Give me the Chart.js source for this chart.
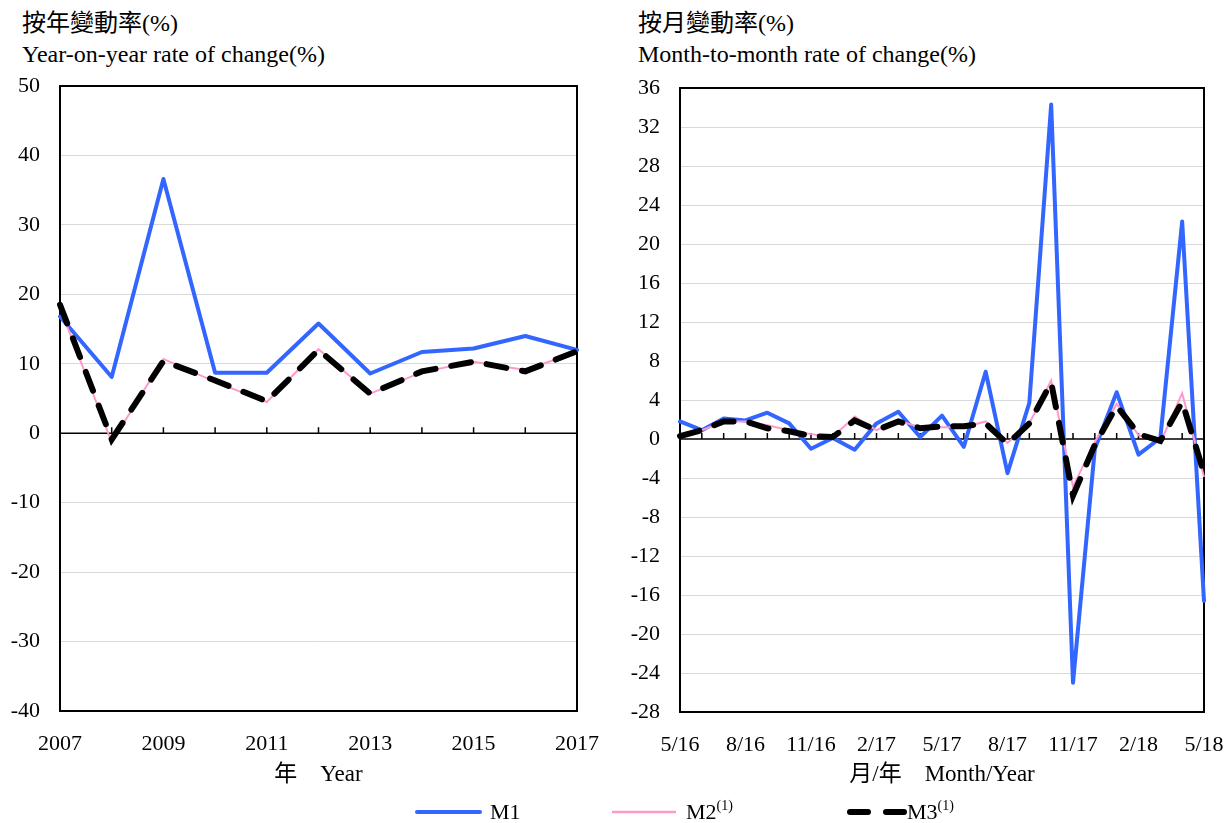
<!DOCTYPE html>
<html>
<head>
<meta charset="utf-8">
<script src="https://cdn.jsdelivr.net/npm/chart.js@4.4.1/dist/chart.umd.min.js"></script>
<style>
  body { margin: 0; background: #fff; width: 1227px; height: 823px; position: relative; overflow: hidden;
         font-family: "Liberation Serif", "Noto Sans CJK TC", serif; color: #000; }
  .t { position: absolute; font-size: 24px; line-height: 30px; white-space: nowrap; }
  #left { position: absolute; left: 0; top: 0; }
  #right { position: absolute; left: 610px; top: 0; }
  #legend { position: absolute; top: 800px; left: 0; width: 1227px; height: 24px; font-size: 22px; }
  #legend .item { position: absolute; top: 0; height: 24px; line-height: 24px; }
  #legend svg { position: absolute; top: 0; }
  sup { font-size: 14px; vertical-align: 9px; line-height: 0; }
</style>
</head>
<body>
<div class="t" style="left:22px;top:8px;">按年變動率(%)</div>
<div class="t" style="left:22px;top:39px;">Year-on-year rate of change(%)</div>
<div class="t" style="left:638px;top:8px;">按月變動率(%)</div>
<div class="t" style="left:638px;top:39px;">Month-to-month rate of change(%)</div>

<canvas id="left" width="610" height="800"></canvas>
<canvas id="right" width="617" height="800"></canvas>

<div id="legend">
  <svg style="left:410px" width="80" height="24"><line x1="7" y1="12" x2="70" y2="12" stroke="#3366ff" stroke-width="4" stroke-linecap="round"/></svg>
  <div class="item" style="left:490px">M1</div>
  <svg style="left:604px" width="80" height="24"><line x1="8" y1="12" x2="72" y2="12" stroke="#ff99cc" stroke-width="2.5"/></svg>
  <div class="item" style="left:686px">M2<sup>(1)</sup></div>
  <svg style="left:840px" width="70" height="24"><line x1="10" y1="12" x2="64" y2="12" stroke="#000" stroke-width="6" stroke-linecap="round" stroke-dasharray="18 18"/></svg>
  <div class="item" style="left:907px">M3<sup>(1)</sup></div>
</div>

<script>
// yearly rate of change (%)
const years = ['2007', '2008', '2009', '2010', '2011', '2012', '2013', '2014', '2015', '2016', '2017'];
const m1Yoy = [16.8, 8.1, 36.6, 8.7, 8.7, 15.8, 8.6, 11.7, 12.2, 14.0, 12.0];
const m2Yoy = [18.1, -1.3, 10.7, 7.4, 4.5, 12.1, 5.7, 8.8, 10.3, 9.1, 11.7];
const m3Yoy = [18.5, -0.9, 10.4, 7.6, 4.6, 12.0, 5.7, 8.9, 10.3, 8.9, 11.8];

// monthly rate of change (%)
const months = ['5/16', '6/16', '7/16', '8/16', '9/16', '10/16', '11/16', '12/16', '1/17', '2/17', '3/17', '4/17',
  '5/17', '6/17', '7/17', '8/17', '9/17', '10/17', '11/17', '12/17', '1/18', '2/18', '3/18', '4/18', '5/18'];
const m1Mom = [1.8, 0.9, 2.1, 1.9, 2.7, 1.6, -1.0, 0.1, -1.1, 1.6, 2.8, 0.2, 2.4, -0.8, 6.9, -3.5, 3.7, 34.3, -25.0, -1.0, 4.8, -1.6, 0.1, 22.3, -16.6];
const m2Mom = [0.3, 0.9, 1.8, 1.8, 1.4, 0.9, 0.5, 0.2, 2.3, 0.9, 1.9, 1.2, 1.2, 1.2, 1.8, -0.4, 1.6, 6.0, -4.9, -0.3, 3.6, 0.4, -0.4, 4.7, -3.9];
const m3Mom = [0.3, 0.9, 1.8, 1.8, 1.1, 0.8, 0.3, 0.2, 1.9, 0.9, 1.8, 1.1, 1.3, 1.3, 1.6, -0.5, 1.6, 5.8, -5.8, -0.6, 3.4, 0.5, -0.2, 3.8, -3.5];

const FONT = '"Liberation Serif", "Noto Sans CJK TC", serif';

// black box round the plot, black zero line with small tick marks pointing up
const frame = {
  id: 'frame',
  beforeDatasetsDraw(chart) {
    const { ctx, chartArea: a, scales: { x, y } } = chart;
    const y0 = y.getPixelForValue(0);
    ctx.save();
    ctx.strokeStyle = '#000';
    ctx.lineWidth = 1.5;
    ctx.beginPath();
    ctx.moveTo(a.left, y0);
    ctx.lineTo(a.right, y0);
    for (let i = 0; i < x.ticks.length; i++) {
      const px = x.getPixelForTick(i);
      ctx.moveTo(px, y0);
      ctx.lineTo(px, y0 - 6);
    }
    ctx.stroke();
    ctx.lineWidth = 2;
    ctx.strokeRect(a.left, a.top, a.right - a.left, a.bottom - a.top);
    ctx.restore();
  }
};

function makeChart(id, labels, s1, s2, s3, yMin, yMax, step, yWidth, padRight, padTop, xHeight, xTitle, every) {
  return new Chart(document.getElementById(id), {
    type: 'line',
    data: {
      labels: labels,
      datasets: [
        { label: 'M1', data: s1, borderColor: '#3366ff', borderWidth: 4, order: 3, borderJoinStyle: 'round', borderCapStyle: 'round' },
        { label: 'M2', data: s2, borderColor: '#ff99cc', borderWidth: 2, order: 2 },
        { label: 'M3', data: s3, borderColor: '#000000', borderWidth: 6, borderDash: [20, 16], borderCapStyle: 'round', order: 1 }
      ]
    },
    options: {
      responsive: false,
      animation: false,
      events: [],
      elements: { point: { radius: 0 }, line: { tension: 0 } },
      layout: { padding: { top: padTop, right: padRight, left: 0, bottom: 0 } },
      plugins: { legend: { display: false }, tooltip: { enabled: false } },
      scales: {
        x: {
          grid: { display: false },
          border: { display: false },
          afterFit(s) { s.height = xHeight; s.paddingLeft = 0; s.paddingRight = 0; },
          ticks: {
            autoSkip: false, maxRotation: 0, padding: 12, color: '#000',
            font: { family: FONT, size: 22 },
            callback: (v, i) => (i % every === 0 ? labels[i] : '')
          },
          title: { display: true, text: xTitle, color: '#000', font: { family: FONT, size: 23 }, padding: { top: 0, bottom: 11 } }
        },
        y: {
          min: yMin, max: yMax,
          afterFit(s) { s.width = yWidth; s.paddingTop = 0; s.paddingBottom = 0; },
          border: { display: false },
          grid: { color: c => (c.tick && c.tick.value === 0 ? 'rgba(0,0,0,0)' : '#d9d9d9'), lineWidth: 1, drawTicks: false },
          ticks: { stepSize: step, padding: 20, color: '#000', font: { family: FONT, size: 22 } }
        }
      }
    },
    plugins: [frame]
  });
}

makeChart('left', years, m1Yoy, m2Yoy, m3Yoy, -40, 50, 10, 60, 33, 86, 89, '年　Year', 2);
makeChart('right', months, m1Mom, m2Mom, m3Mom, -28, 36, 4, 70, 23, 88, 88, '月/年　Month/Year', 3);
</script>
</body>
</html>
